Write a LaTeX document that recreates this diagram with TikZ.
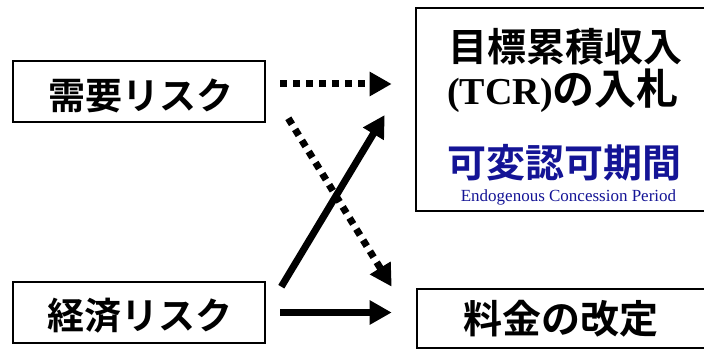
\documentclass[tikz,border=0pt]{standalone}
\usepackage{fontspec}
\setmainfont{Liberation Serif}
\newfontfamily\jpfont{Noto Sans CJK JP}[BoldFont={Noto Sans CJK JP Bold}]
\usetikzlibrary{arrows.meta}
\definecolor{myblue}{RGB}{20,20,150}
\tikzset{
  x=1pt, y=-1pt,
  box/.style={draw=black, line width=2.6pt, inner sep=0pt, fill=white},
  jptext/.style={font=\jpfont\bfseries\fontsize{37}{40}\selectfont, inner sep=0pt},
  bigjp/.style={font=\jpfont\bfseries\fontsize{39}{40}\selectfont, inner sep=0pt},
  solidarrow/.style={line width=7pt, -{Triangle[length=22pt,width=23pt]}},
  dotarrow/.style={line width=7pt, dash pattern=on 7pt off 6pt, -{Triangle[length=22pt,width=23pt]}},
}
\begin{document}
\begin{tikzpicture}
\useasboundingbox (0,0) rectangle (704,350);
% boxes
\node[box, minimum width=252pt, minimum height=61pt] (A) at (139,91.5) {};
\node[box, minimum width=252pt, minimum height=61pt] (B) at (139,312.5) {};
\node[box, minimum width=292pt, minimum height=203pt] (C) at (562,109.5) {};
\node[box, minimum width=290pt, minimum height=59pt] (D) at (562,318.5) {};
% texts
\node[jptext] (ta) at (141,96) {需要リスク};
\node[jptext] (tb) at (140,316) {経済リスク};
\node[bigjp] (tc1) at (565,47) {目標累積収入};
\node[bigjp] (tc2) at (563,91) {\fontsize{38}{40}\selectfont\rmfamily\bfseries (TCR)\jpfont\bfseries\fontsize{42}{40}\selectfont の入札};
\node[bigjp, text=myblue] (tc3) at (564,163) {可変認可期間};
\node[inner sep=0pt, text=myblue, font=\fontsize{17}{18}\selectfont] (tc4) at (568.5,197) {Endogenous Concession Period};
\node[bigjp] (td) at (561,319) {料金の改定};
% connectors
\draw[dotarrow, shorten <=14pt, shorten >=23pt] ([yshift=7.5pt]A.east) -- ([yshift=7.5pt]A.east -| C.west);
\draw[dotarrow] ([shift={(22,-5)}]A.south east) -- ([shift={(-24,-1)}]D.north west);
\draw[solidarrow] ([shift={(15,6)}]B.north east) -- ([shift={(-30,5.5)}]C.west);
\draw[solidarrow, shorten <=14pt, shorten >=24pt] (B.east) -- (B.east -| D.west);
\end{tikzpicture}
\end{document}
